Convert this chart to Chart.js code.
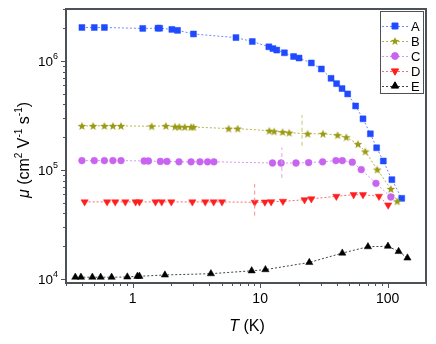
<!DOCTYPE html>
<html>
<head>
<meta charset="utf-8">
<script src="https://cdn.jsdelivr.net/npm/chart.js@4/dist/chart.umd.min.js"></script>
<style>
  html, body { margin: 0; padding: 0; background: #fff; }
  canvas { display: block; }
</style>
</head>
<body>
<canvas id="chart" width="436" height="344"></canvas>
<script>
// temperature (K) and mobility (cm2/Vs) for each sample
const tempA = [0.40, 0.50, 0.60, 1.2, 1.58, 1.63, 2.03, 2.25, 3.0, 6.46, 8.68, 11.7, 12.6, 13.5, 15.5, 18.3, 20.2, 25.2, 30.2, 36, 39.8, 43.9, 48.6, 56.1, 64.1, 73.2, 82, 92.5, 108, 129];
const muA = [2.03e6, 2.03e6, 2.03e6, 1.99e6, 2.0e6, 2.0e6, 1.95e6, 1.91e6, 1.77e6, 1.64e6, 1.51e6, 1.35e6, 1.30e6, 1.26e6, 1.19e6, 1.10e6, 1.065e6, 9.6e5, 8.45e5, 6.94e5, 6.2e5, 5.59e5, 4.99e5, 3.87e5, 2.95e5, 2.15e5, 1.6e5, 1.21e5, 8.16e4, 5.5e4];

const tempB = [0.40, 0.49, 0.60, 0.70, 0.81, 1.41, 1.82, 2.15, 2.32, 2.56, 2.87, 3.0, 5.66, 6.66, 11.8, 12.9, 15.0, 16.9, 23.6, 31.1, 40.5, 47.4, 58.5, 66.8, 83, 106, 119];
const muB = [2.54e5, 2.54e5, 2.54e5, 2.54e5, 2.54e5, 2.52e5, 2.54e5, 2.5e5, 2.49e5, 2.48e5, 2.48e5, 2.48e5, 2.4e5, 2.4e5, 2.29e5, 2.26e5, 2.23e5, 2.2e5, 2.15e5, 2.15e5, 2.09e5, 2.0e5, 1.73e5, 1.48e5, 1.01e5, 6.7e4, 5.16e4];

const tempC = [0.40, 0.50, 0.60, 0.70, 0.81, 1.23, 1.33, 1.65, 1.86, 2.31, 2.87, 3.37, 3.87, 4.34, 12.5, 14.6, 19.1, 24.0, 30.9, 39.3, 44.1, 52.8, 62.1, 81, 106];
const muC = [1.22e5, 1.22e5, 1.22e5, 1.22e5, 1.22e5, 1.21e5, 1.21e5, 1.2e5, 1.2e5, 1.19e5, 1.19e5, 1.19e5, 1.19e5, 1.19e5, 1.16e5, 1.16e5, 1.16e5, 1.17e5, 1.19e5, 1.22e5, 1.22e5, 1.18e5, 1.01e5, 7.55e4, 5.66e4];

const tempD = [0.42, 0.63, 0.73, 0.876, 1.055, 1.13, 1.51, 1.69, 2.01, 2.94, 3.71, 4.32, 5.02, 9.06, 10.9, 12.2, 15.1, 22.3, 25.2, 39.6, 54.1, 64.1, 85.5, 101];
const muD = [5.1e4, 5.1e4, 5.1e4, 5.1e4, 5.1e4, 5.1e4, 5.1e4, 5.1e4, 5.1e4, 5.1e4, 5.1e4, 5.1e4, 5.1e4, 5.06e4, 5.08e4, 5.12e4, 5.16e4, 5.34e4, 5.44e4, 5.74e4, 5.94e4, 5.94e4, 5.74e4, 4.77e4];

const tempE = [0.355, 0.393, 0.483, 0.561, 0.684, 0.908, 1.09, 1.13, 1.79, 4.11, 8.58, 11.0, 24.3, 44.1, 70.1, 100.6, 122, 143];
const muE = [1.04e4, 1.04e4, 1.04e4, 1.04e4, 1.04e4, 1.045e4, 1.06e4, 1.06e4, 1.09e4, 1.12e4, 1.19e4, 1.22e4, 1.42e4, 1.73e4, 1.98e4, 2.0e4, 1.79e4, 1.56e4];

// dashed vertical markers (B, C, D)
const markT = [21.3, 14.8, 9.06];
const markLow = [1.67e5, 8.46e4, 3.82e4];
const markHigh = [3.2e5, 1.61e5, 7.45e4];

const seriesNames = ['A', 'B', 'C', 'D', 'E'];
const xTickVals = [1, 10, 100];
const yTickExps = [4, 5, 6];

const colA = '#1f4bff', colB = '#9a9a14', colC = '#c864f0', colD = '#ff1e1e', colE = '#000000';

function starImage(color) {
  const c = document.createElement('canvas');
  c.width = 10; c.height = 10;
  const g = c.getContext('2d');
  g.fillStyle = color;
  g.beginPath();
  for (let i = 0; i < 10; i++) {
    const r = i % 2 === 0 ? 4.5 : 1.9;
    const a = -Math.PI / 2 + i * Math.PI / 5;
    const px = 5 + r * Math.cos(a), py = 5.4 + r * Math.sin(a);
    if (i === 0) g.moveTo(px, py); else g.lineTo(px, py);
  }
  g.closePath();
  g.fill();
  return c;
}
const star = starImage(colB);

function pts(xs, ys) {
  return xs.map((x, i) => ({ x: x, y: ys[i] }));
}

function series(label, xs, ys, color, lineColor, style, radius, rotation) {
  return {
    label: label,
    data: pts(xs, ys),
    borderColor: lineColor,
    borderWidth: 1,
    borderDash: [2, 2],
    pointStyle: style,
    pointRadius: radius,
    pointRotation: rotation || 0,
    pointBackgroundColor: color,
    pointBorderColor: color,
    pointBorderWidth: 0.5,
    tension: 0
  };
}

const markColors = ['#c8c860', '#dca6f2', '#ff8a8a'];
const markSets = markT.map((t, i) => ({
  label: 'mark' + i,
  data: [{ x: t, y: markLow[i] }, { x: t, y: markHigh[i] }],
  borderColor: markColors[i],
  borderWidth: 1,
  borderDash: [4, 3],
  pointRadius: 0
}));

const datasets = [
  ...markSets,
  series('E', tempE, muE, colE, '#444', 'triangle', 4.2, 0),
  series('D', tempD, muD, colD, '#ff6a6a', 'triangle', 4.2, 180),
  series('C', tempC, muC, colC, '#d496f2', 'circle', 3.4, 0),
  series('B', tempB, muB, colB, '#b4b448', star, 5, 0),
  series('A', tempA, muA, colA, '#7088ff', 'rect', 4.2, 0)
];

const font = '"Liberation Sans", Arial, sans-serif';

const axesPlugin = {
  id: 'axesPlugin',
  afterDraw(chart) {
    const ctx = chart.ctx;
    const a = chart.chartArea;
    const xs = chart.scales.x, ys = chart.scales.y;
    ctx.save();
    ctx.strokeStyle = '#4b5157';
    ctx.fillStyle = '#000';
    ctx.lineWidth = 1;
    // ticks
    ctx.beginPath();
    for (let d = -1; d <= 2; d++) {
      for (let m = 1; m <= 9; m++) {
        const v = m * Math.pow(10, d);
        if (v < xs.min || v > xs.max) continue;
        const px = Math.round(xs.getPixelForValue(v)) + 0.5;
        const len = m === 1 ? 5 : 3;
        ctx.moveTo(px, a.bottom); ctx.lineTo(px, a.bottom + len);
      }
    }
    for (let d = 3; d <= 6; d++) {
      for (let m = 1; m <= 9; m++) {
        const v = m * Math.pow(10, d);
        if (v < ys.min || v > ys.max) continue;
        const py = Math.round(ys.getPixelForValue(v)) + 0.5;
        const len = m === 1 ? 5 : 3;
        ctx.moveTo(a.left, py); ctx.lineTo(a.left - len, py);
      }
    }
    ctx.stroke();
    // frame
    ctx.lineWidth = 2;
    ctx.strokeRect(a.left, a.top, a.right - a.left, a.bottom - a.top);

    // x tick labels
    ctx.font = '14px ' + font;
    ctx.textAlign = 'center';
    ctx.textBaseline = 'top';
    xTickVals.forEach(v => {
      ctx.fillText(String(v), xs.getPixelForValue(v), a.bottom + 9);
    });
    // y tick labels 10^n
    yTickExps.forEach(n => {
      const py = ys.getPixelForValue(Math.pow(10, n));
      ctx.font = '9px ' + font;
      const sw = ctx.measureText(String(n)).width;
      ctx.textAlign = 'left';
      ctx.textBaseline = 'alphabetic';
      const right = a.left - 8;
      ctx.fillText(String(n), right - sw, py - 2);
      ctx.font = '13.5px ' + font;
      ctx.textAlign = 'right';
      ctx.fillText('10', right - sw, py + 5);
    });

    // x title
    const xParts = [
      { t: 'T', f: 'italic 16px ' + font, dy: 0 },
      { t: ' (K)', f: '16px ' + font, dy: 0 }
    ];
    drawParts(ctx, xParts, (a.left + a.right) / 2 + 1, 331);

    // y title (rotated)
    ctx.save();
    ctx.translate(29, (a.top + a.bottom) / 2 + 4);
    ctx.rotate(-Math.PI / 2);
    const yParts = [
      { t: 'μ', f: 'italic 16px ' + font, dy: 0 },
      { t: ' (cm', f: '16px ' + font, dy: 0 },
      { t: '2', f: '10px ' + font, dy: -7 },
      { t: ' V', f: '16px ' + font, dy: 0 },
      { t: '-1', f: '10px ' + font, dy: -7 },
      { t: ' s', f: '16px ' + font, dy: 0 },
      { t: '-1', f: '10px ' + font, dy: -7 },
      { t: ')', f: '16px ' + font, dy: 0 }
    ];
    drawParts(ctx, yParts, 0, 0);
    ctx.restore();

    // legend
    const lx = 380, ly = 11, lw = 43, lh = 82;
    ctx.fillStyle = '#fff';
    ctx.fillRect(lx, ly, lw, lh);
    ctx.lineWidth = 1;
    ctx.strokeStyle = '#4b5157';
    ctx.strokeRect(lx + 0.5, ly + 0.5, lw, lh);
    const legendSets = seriesNames.map(n => chart.data.datasets.find(ds => ds.label === n));
    legendSets.forEach((ds, i) => {
      const yy = 26 + i * 15;
      ctx.save();
      ctx.strokeStyle = ds.borderColor;
      ctx.lineWidth = 1;
      ctx.setLineDash([2, 2]);
      ctx.beginPath();
      ctx.moveTo(382, yy + 0.5); ctx.lineTo(408, yy + 0.5);
      ctx.stroke();
      ctx.restore();
      ctx.fillStyle = ds.pointBackgroundColor;
      ctx.strokeStyle = ds.pointBorderColor;
      Chart.helpers.drawPoint(ctx, {
        pointStyle: ds.pointStyle,
        radius: ds.pointRadius,
        rotation: ds.pointRotation,
        borderWidth: 0.5
      }, 395, yy);
      ctx.fillStyle = '#000';
      ctx.font = '13px ' + font;
      ctx.textAlign = 'left';
      ctx.textBaseline = 'middle';
      ctx.fillText(seriesNames[i], 411, yy + 1);
    });
    ctx.restore();
  }
};

function drawParts(ctx, parts, cx, baseline) {
  let total = 0;
  parts.forEach(p => { ctx.font = p.f; p.w = ctx.measureText(p.t).width; total += p.w; });
  let x = cx - total / 2;
  ctx.textAlign = 'left';
  ctx.textBaseline = 'alphabetic';
  ctx.fillStyle = '#000';
  parts.forEach(p => {
    ctx.font = p.f;
    ctx.fillText(p.t, x, baseline + p.dy);
    x += p.w;
  });
}

new Chart(document.getElementById('chart'), {
  type: 'line',
  data: { datasets: datasets },
  options: {
    responsive: false,
    animation: false,
    devicePixelRatio: 1,
    layout: { padding: { left: 66, top: 9, right: 10, bottom: 61 } },
    plugins: { legend: { display: false }, tooltip: { enabled: false } },
    scales: {
      x: { type: 'logarithmic', min: 0.3, max: 200, display: false },
      y: { type: 'logarithmic', min: 9.2e3, max: 3e6, display: false }
    }
  },
  plugins: [axesPlugin]
});
</script>
</body>
</html>
